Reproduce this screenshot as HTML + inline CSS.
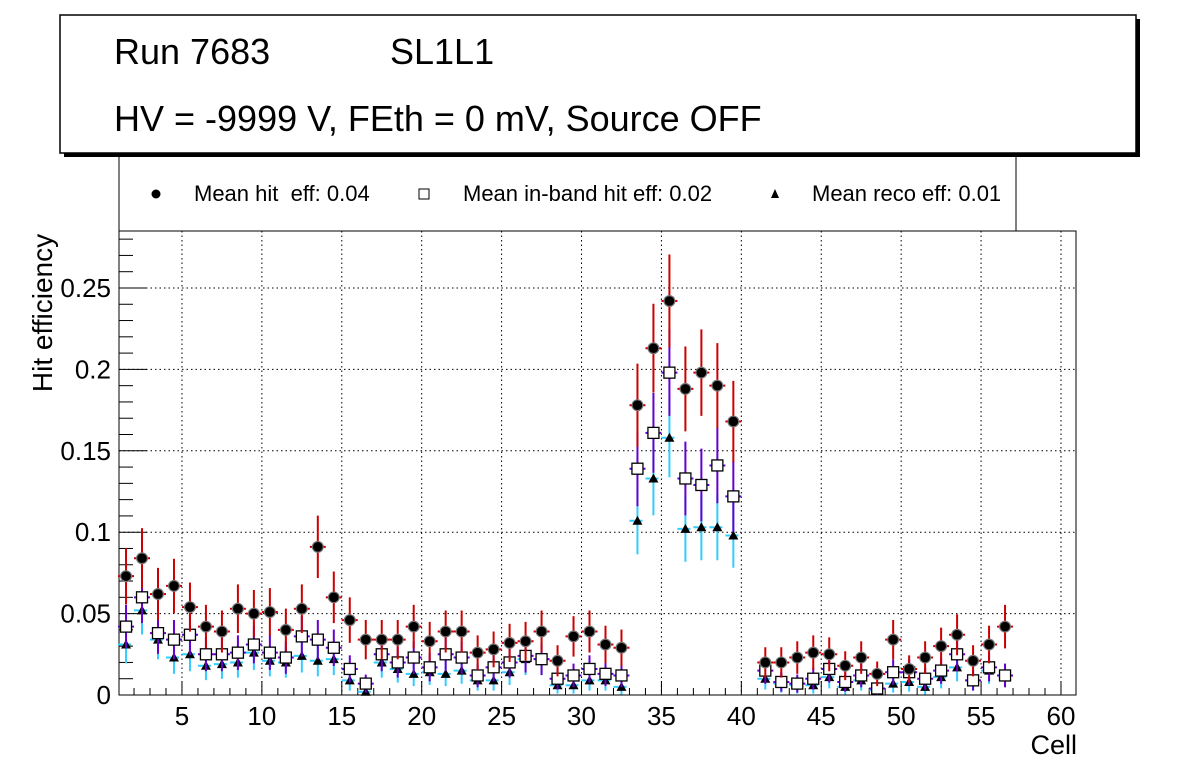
<!DOCTYPE html>
<html><head><meta charset="utf-8"><style>
body{margin:0;background:#fff;}
svg{display:block;font-family:"Liberation Sans",sans-serif;}
</style></head><body>
<svg id="c" width="1196" height="772" viewBox="0 0 1196 772">
<rect x="0" y="0" width="1196" height="772" fill="#fff"/>
<g id="legend">
<rect x="119" y="150" width="897" height="81" fill="#fff" stroke="#000" stroke-width="1"/>
<circle cx="156" cy="194" r="4.5" fill="#000"/>
<text x="194" y="201" font-size="22" xml:space="preserve">Mean hit  eff: 0.04</text>
<rect x="419" y="189" width="10" height="10" fill="#fff" stroke="#000"/>
<text x="463" y="201" font-size="22">Mean in-band hit eff: 0.02</text>
<polygon points="775,189 779,198 771,198" fill="#000"/>
<text x="812" y="201" font-size="22">Mean reco eff: 0.01</text>
</g>
<g>
<rect x="64" y="19" width="1076" height="138" fill="#000"/>
<rect x="60" y="15" width="1076" height="138" fill="#fff" stroke="#000" stroke-width="1.5"/>
<text x="114" y="64" font-size="36">Run 7683</text>
<text x="390" y="64" font-size="36">SL1L1</text>
<text x="114" y="131" font-size="36">HV = -9999 V, FEth = 0 mV, Source OFF</text>
</g>
<g id="grid"></g>
<g id="axes"></g>
<g id="marks"></g>
<text x="52" y="313" font-size="28" text-anchor="middle" transform="rotate(-90 52 313)">Hit efficiency</text>
<text x="1077" y="754" font-size="27" text-anchor="end">Cell</text>
</svg>
<script>
const cells = Array.from({length:56},(_,i)=>i+1);
const hitEff = [0.073,0.084,0.062,0.067,0.054,0.042,0.039,0.053,0.050,0.051,0.040,0.053,0.091,0.060,0.046,0.034,0.034,0.034,0.042,0.033,0.039,0.039,0.026,0.028,0.032,0.033,0.039,0.021,0.036,0.039,0.031,0.029,0.178,0.213,0.242,0.188,0.198,0.190,0.168,null,0.020,0.020,0.023,0.026,0.025,0.018,0.023,0.013,0.034,0.016,0.023,0.030,0.037,0.021,0.031,0.042];
const inbandEff = [0.042,0.060,0.038,0.034,0.037,0.025,0.025,0.026,0.031,0.026,0.023,0.036,0.034,0.029,0.016,0.007,0.025,0.020,0.023,0.017,0.025,0.023,0.012,0.017,0.020,0.024,0.022,0.010,0.012,0.016,0.013,0.012,0.139,0.161,0.198,0.133,0.129,0.141,0.122,null,0.015,0.008,0.007,0.010,0.016,0.008,0.012,0.004,0.014,0.014,0.010,0.015,0.025,0.009,0.017,0.012];
const recoEff = [0.031,0.052,0.034,0.023,0.025,0.018,0.019,0.020,0.026,0.021,0.020,0.024,0.021,0.022,0.009,0.002,0.020,0.016,0.013,0.014,0.013,0.015,0.009,0.009,0.014,0.022,0.022,0.006,0.006,0.009,0.009,0.005,0.107,0.133,0.158,0.102,0.103,0.103,0.098,null,0.010,0.007,0.006,0.006,0.011,0.005,0.009,0.003,0.007,0.008,0.005,0.011,0.017,0.009,0.015,0.012];
const nEvents = 225;
const xTicks = [5,10,15,20,25,30,35,40,45,50,55,60];
const yTicks = [0,0.05,0.1,0.15,0.2,0.25];
const yTickLabels = ["0","0.05","0.1","0.15","0.2","0.25"];

const L=119,R=1076,T=231,B=695, X0=1.06, X1=60.94, Y0=0, Y1=0.285;
const sx=v=>L+(v-X0)/(X1-X0)*(R-L);
const sy=v=>B-(v-Y0)/(Y1-Y0)*(B-T);
const NS='http://www.w3.org/2000/svg';
function mk(tag,attrs,parent){const e=document.createElementNS(NS,tag);for(const k in attrs)e.setAttribute(k,attrs[k]);parent.appendChild(e);return e;}
const grid=document.getElementById('grid'),axes=document.getElementById('axes'),marks=document.getElementById('marks');
mk('rect',{x:L,y:T,width:R-L,height:B-T,fill:'none',stroke:'#000','stroke-width':1},axes);
xTicks.forEach(t=>{const x=sx(t);
 const g=mk('line',{x1:x,x2:x,y1:T,y2:B,stroke:'#000','stroke-dasharray':'1.5,3'},grid);
 
 
 mk('line',{x1:x,x2:x,y1:B,y2:B-14,stroke:'#000'},axes);
 const tx=mk('text',{x:x,y:725,'font-size':26,'text-anchor':'middle'},axes);tx.textContent=t;
 
 
});
for(let m=2;m<=60;m++){if(m%5)mk('line',{x1:sx(m),x2:sx(m),y1:B,y2:B-7,stroke:'#000'},axes);}
yTicks.forEach((t,i)=>{const y=sy(t);
 if(t>0){const g=mk('line',{x1:L,x2:R,y1:y,y2:y,stroke:'#000','stroke-dasharray':'1.5,3'},grid);
 
 }
 mk('line',{x1:L,x2:L+28,y1:y,y2:y,stroke:'#000'},axes);
 const tx=mk('text',{x:111,y:y+9,'font-size':26,'text-anchor':'end'},axes);tx.textContent=yTickLabels[i];
 
 
});
for(let v=0.01;v<0.285;v+=0.01){if(Math.round(v*100)%5)mk('line',{x1:L,x2:L+14,y1:sy(v),y2:sy(v),stroke:'#000'},axes);}
function err(v){return Math.sqrt(v*(1-v)/nEvents);}
function series(vals,color,kind,dash){
 vals.forEach((v,i)=>{if(v==null)return;const c=cells[i]+0.5,x=sx(c),y=sy(v),e=err(v);
  const g=mk('g',{},marks);
  
  
  mk('line',{x1:x,x2:x,y1:Math.max(T,sy(v+e)),y2:Math.min(B,sy(Math.max(0,v-e))),stroke:color,'stroke-width':2},g);
  mk('line',{x1:sx(c-0.5),x2:sx(c+0.5),y1:y,y2:y,stroke:color,'stroke-width':2,'stroke-dasharray':dash||'none'},g);
  if(kind==='hit'){mk('circle',{cx:x,cy:y,r:6,fill:'#777'},g);mk('circle',{cx:x,cy:y,r:4.8,fill:'#000'},g);}
  else if(kind==='inband'){mk('rect',{x:x-5.5,y:y-5.5,width:11,height:11,fill:'#fff',stroke:'#000','stroke-width':1.3},g);}
  else {mk('polygon',{points:`${x},${y-5} ${x+5},${y+4} ${x-5},${y+4}`,fill:'#000'},g);}
 });
}
series(recoEff,'#33ccff','reco','5,3');
series(inbandEff,'#6600cc','inband');
series(hitEff,'#cc0000','hit');
</script>
</body></html>
